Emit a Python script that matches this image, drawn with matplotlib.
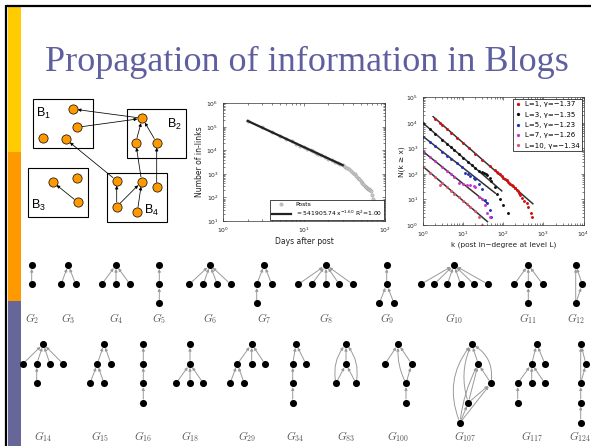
import matplotlib
matplotlib.use('Agg')
import matplotlib.pyplot as plt
from matplotlib.patches import Rectangle

W, H = 591, 446

# ---- in-links over time (middle panel) ----
days = [2, 3, 4, 5, 6, 7, 8, 9, 10, 11, 12, 13, 14, 15, 16, 18, 20, 22, 24, 26,
        28, 30, 32, 34, 36, 38, 40, 42, 44, 46, 48, 50, 52, 54, 56, 58, 60, 62,
        64, 66, 68, 70, 72]
inlinks = [178000, 94000, 59500, 41000, 31000, 24000, 19500, 16000, 13500,
           11800, 10100, 9000, 7900, 7100, 6400, 5300, 4500, 3850, 3350, 2950,
           2600, 2300, 2000, 1800, 1550, 1300, 1100, 950, 800, 680, 580, 500,
           430, 370, 320, 290, 260, 240, 220, 200, 180, 130, 90]
fit_coef = 541905.74
fit_exp = -1.60
fit_r2 = 1.00
fit_days = [2, 30]

# ---- in-degree distribution per cascade level (right panel) ----
levels = ['L=1', 'L=3', 'L=5', 'L=7', 'L=10']
gammas = [-1.37, -1.35, -1.23, -1.26, -1.34]
fit_amp = [37900, 9550, 2880, 740, 190]
fit_k = [(1.76, 543), (1, 91), (1, 63), (1, 40), (1, 40)]
level_colors = ['#d01010', '#111111', '#2233bb', '#cc33cc', '#e05570']

k_l1 = [2, 2.6, 3, 4, 5, 7, 10, 14, 20, 30, 45, 60, 70, 75, 82, 90, 100, 110,
        120, 130, 140, 150, 165, 175, 190, 200, 215, 230, 245, 260, 290, 330,
        380, 420, 480, 515]
n_l1 = [14700, 10250, 8400, 5680, 4180, 2640, 1620, 1020, 627, 360, 206, 139,
        118, 104, 95, 82, 72, 63, 57, 50, 46, 41, 37, 33, 29, 27, 24, 22, 18,
        15, 11, 9, 7, 5, 3, 2]
k_l3 = [1, 1.5, 2, 3, 4, 5, 6, 8, 10, 13, 16, 20, 25, 30, 33, 36, 40, 45, 50,
        60, 70, 80, 100, 130]
n_l3 = [9550, 5520, 3750, 2170, 1470, 1090, 851, 577, 427, 299, 226, 167, 130,
        118, 110, 100, 88, 70, 52, 30, 16, 10, 6, 3]
k_l5 = [1, 1.5, 2, 3, 4, 5, 7, 9, 11, 13, 15, 18, 20, 25, 30, 35, 40, 45, 50]
n_l5 = [2880, 1750, 1230, 746, 524, 398, 264, 193, 110, 95, 85, 70, 62, 40,
        25, 9.5, 7, 4, 2]
k_l7 = [1, 1.5, 2, 3, 4, 5, 6, 8, 10, 12, 15, 18, 20, 25, 30, 35, 40, 45]
n_l7 = [740, 444, 309, 185, 129, 97, 77, 45, 40, 38, 36, 33, 30, 13, 10, 6, 3, 2]
k_l10 = [1, 1.5, 2, 2.6, 3, 4, 5, 6, 8, 10, 12, 15, 20, 25, 30]
n_l10 = [190, 110, 75, 37, 44, 30, 22, 17, 12, 8.7, 6.8, 5, 3.4, 2, 1]
level_k = [k_l1, k_l3, k_l5, k_l7, k_l10]
level_n = [n_l1, n_l3, n_l5, n_l7, n_l10]

# ---- blog graph sketch (top left) ----
blog_boxes = {'1': (33.3, 99.3, 92.7, 148.3), '2': (126.7, 109, 186, 158.3),
              '3': (28.3, 168.3, 87.7, 217.3), '4': (107.3, 172.7, 166.7, 222.3)}
blog_labels = {'1': (43, 113), '2': (174, 124), '3': (38, 205), '4': (152, 210)}
blog_posts = [(72.7, 109), (77.3, 127.3), (42.7, 138.3), (66, 139.3),
              (142.3, 118.3), (135.7, 142.7), (156.7, 142.7),
              (52.7, 182), (77.3, 178), (78, 202.3),
              (116.7, 180.7), (141.7, 181.7), (156.7, 187.3), (116.7, 206.7),
              (137.3, 212)]
blog_links = [(4, 0), (1, 4), (10, 3), (5, 4), (6, 4), (11, 5), (12, 6),
              (13, 10), (13, 11), (14, 11), (9, 7)]

# ---- cascade shapes: (label, label x, row, nodes (x, depth), edges (src, dst, rad)) ----
cascades = [
    ('2', 31.7, 0, [(31.7, 0), (31.7, 1)], [(1, 0, 0)]),
    ('3', 68.3, 0, [(68.3, 0), (61, 1), (75.7, 1)], [(1, 0, 0), (2, 0, 0)]),
    ('4', 116, 0, [(116, 0), (101.7, 1), (116, 1), (130, 1)],
     [(1, 0, 0), (2, 0, 0), (3, 0, 0)]),
    ('5', 159.3, 0, [(159.3, 0), (159.3, 1), (159.3, 2)], [(1, 0, 0), (2, 1, 0)]),
    ('6', 210, 0, [(210, 0), (189.3, 1), (203.3, 1), (217.3, 1), (230.7, 1)],
     [(1, 0, 0), (2, 0, 0), (3, 0, 0), (4, 0, 0)]),
    ('7', 264.3, 0, [(264.3, 0), (256.7, 1), (271.7, 1), (256.7, 2)],
     [(1, 0, 0), (2, 0, 0), (3, 1, 0)]),
    ('8', 326, 0, [(326, 0), (298.3, 1), (311.7, 1), (326, 1), (339.3, 1), (352.7, 1)],
     [(1, 0, 0), (2, 0, 0), (3, 0, 0), (4, 0, 0), (5, 0, 0)]),
    ('9', 386.7, 0, [(386.7, 0), (386.7, 1), (379.3, 2), (394, 2)],
     [(1, 0, 0), (2, 1, 0), (3, 1, 0)]),
    ('10', 454, 0, [(454, 0), (420.7, 1), (434, 1), (447.3, 1), (460.7, 1),
                    (474, 1), (488, 1)],
     [(1, 0, 0), (2, 0, 0), (3, 0, 0), (4, 0, 0), (5, 0, 0), (6, 0, 0)]),
    ('11', 528.3, 0, [(528.3, 0), (514.3, 1), (528.3, 1), (542.7, 1), (528.3, 2)],
     [(1, 0, 0), (2, 0, 0), (3, 0, 0), (4, 2, 0)]),
    ('12', 575.7, 0, [(575.7, 0), (582.3, 1), (575.7, 2)],
     [(1, 0, 0), (2, 1, 0), (2, 0, 0)]),
    ('14', 43.3, 1, [(43.3, 0), (22.7, 1), (36.7, 1), (50, 1), (63.3, 1), (36.7, 2)],
     [(1, 0, 0), (2, 0, 0), (3, 0, 0), (4, 0, 0), (5, 2, 0)]),
    ('15', 100, 1, [(104, 0), (97.3, 1), (111, 1), (90, 2), (104, 2)],
     [(1, 0, 0), (2, 0, 0), (3, 1, 0), (4, 1, 0)]),
    ('16', 143.3, 1, [(143.3, 0), (143.3, 1), (143.3, 2), (143.3, 3)],
     [(1, 0, 0), (2, 1, 0), (3, 2, 0)]),
    ('18', 190, 1, [(190, 0), (190, 1), (176, 2), (190, 2), (203.3, 2)],
     [(1, 0, 0), (2, 1, 0), (3, 1, 0), (4, 1, 0)]),
    ('29', 246.7, 1, [(251.7, 0), (237.3, 1), (251.7, 1), (265, 1), (230, 2), (244.3, 2)],
     [(1, 0, 0), (2, 0, 0), (3, 0, 0), (4, 1, 0), (5, 1, 0)]),
    ('34', 295, 1, [(296, 0), (292.7, 1), (306, 1), (292.7, 2), (292.7, 3)],
     [(1, 0, 0), (2, 0, 0), (3, 1, 0), (4, 3, 0)]),
    ('83', 346, 1, [(346, 0), (346, 1), (336, 2), (356, 2)],
     [(1, 0, 0), (2, 1, 0), (3, 1, 0), (2, 0, -0.25), (3, 0, 0.25)]),
    ('100', 398.3, 1, [(398.3, 0), (385, 1), (411.7, 1), (406, 2), (406, 3)],
     [(1, 0, 0), (2, 0, 0), (3, 2, 0), (4, 3, 0), (3, 0, -0.15)]),
    ('107', 465, 1, [(471.7, 0), (478.3, 1), (491, 2), (468.3, 3), (460, 4)],
     [(1, 0, 0), (2, 1, 0), (2, 0, 0.35), (3, 1, 0), (3, 2, 0), (4, 3, 0),
      (4, 2, 0), (4, 1, -0.1), (4, 0, -0.3), (3, 0, -0.2)]),
    ('117', 531.7, 1, [(536.7, 0), (531.7, 1), (545, 1), (517.7, 2), (531.7, 2),
                      (545, 2), (517.7, 3)],
     [(1, 0, 0), (2, 0, 0), (3, 1, 0), (4, 1, 0), (5, 1, 0), (6, 3, 0)]),
    ('124', 580, 1, [(580.7, 0), (586, 1), (580.7, 2), (580.7, 3), (580.7, 4)],
     [(1, 0, 0), (2, 1, 0), (2, 0, 0), (3, 2, 0), (4, 3, 0)]),
]
row_depth_y = [[265, 284.3, 303.3], [344, 364, 383.3, 402.7, 422.7]]
row_label_y = [318.5, 437]


def px_axes(fig, left, top, right, bottom):
    return fig.add_axes([left / W, 1 - bottom / H, (right - left) / W, (bottom - top) / H])


def arrow(ax, src, dst, color, lw, scale, shrink_a, shrink_b, rad=0.0):
    ax.annotate('', xy=dst, xytext=src,
                arrowprops=dict(arrowstyle='-|>', color=color, lw=lw,
                                mutation_scale=scale, shrinkA=shrink_a,
                                shrinkB=shrink_b,
                                connectionstyle=f'arc3,rad={rad}'),
                zorder=2)


def style_log_axes(a):
    a.set_xscale('log')
    a.set_yscale('log')
    a.tick_params(which='both', direction='in', top=True, right=True,
                  labelsize=4.3, width=0.4, colors='#222')
    a.tick_params(which='major', length=2.5)
    a.tick_params(which='minor', length=1.3)
    for s in a.spines.values():
        s.set_linewidth(0.5)
        s.set_color('#333')


fig = plt.figure(figsize=(W / 100, H / 100), dpi=100)
ax = fig.add_axes([0, 0, 1, 1])
ax.set_xlim(0, W)
ax.set_ylim(H, 0)
ax.axis('off')

# slide frame and colour bar
ax.plot([6, W], [5.5, 5.5], color='black', lw=1.6, solid_capstyle='butt')
ax.plot([6.2, 6.2], [5, H], color='black', lw=1.6, solid_capstyle='butt')
ax.add_patch(Rectangle((8, 7), 13, 145, color='#ffcc00', lw=0))
ax.add_patch(Rectangle((8, 152), 13, 148.5, color='#ff9900', lw=0))
ax.add_patch(Rectangle((8, 300.5), 13, H - 300.5, color='#666699', lw=0))

ax.text(307, 71, 'Propagation of information in Blogs', ha='center',
        va='baseline', fontsize=26, family='Liberation Serif', color='#5f5f9f')

# blogs with posts linking to each other
for name, (x0, y0, x1, y1) in blog_boxes.items():
    ax.add_patch(Rectangle((x0, y0), x1 - x0, y1 - y0, fc='white', ec='black', lw=0.8))
    lx, ly = blog_labels[name]
    ax.text(lx, ly, 'B$_\\mathregular{' + name + '}$', ha='center', va='center',
            fontsize=9, family='Liberation Sans', color='black')
for s, d in blog_links:
    arrow(ax, blog_posts[s], blog_posts[d], 'black', 0.55, 4.5, 3.5, 3.6)
ax.scatter([p[0] for p in blog_posts], [p[1] for p in blog_posts], s=44,
           c='#ff9900', edgecolors='black', linewidths=0.5, zorder=3)

# cascade shapes
for label, lx, row, nodes, edges in cascades:
    ys = row_depth_y[row]
    pts = [(x, ys[dep]) for x, dep in nodes]
    for s, d, rad in edges:
        arrow(ax, pts[s], pts[d], '#9a9a9a', 0.7, 4, 2.6, 2.8, rad)
    ax.scatter([p[0] for p in pts], [p[1] for p in pts], s=26, c='black',
               linewidths=0, zorder=3)
    ax.text(lx, row_label_y[row], '$G_{' + label + '}$', ha='center', va='center',
            fontsize=8, color='#555', math_fontfamily='cm')

# in-links vs days after post
ax1 = px_axes(fig, 223.3, 103.3, 385, 221)
style_log_axes(ax1)
ax1.plot(days, inlinks, 'o', ms=2.4, mfc='#c4c4c4', mec='#9a9a9a', mew=0.3,
         label='Posts')
fit_y = [fit_coef * d ** fit_exp for d in fit_days]
ax1.plot(fit_days, fit_y, color='#222', lw=1.6,
         label=f'= {fit_coef} x$^{{{fit_exp:.2f}}}$ R$^2$={fit_r2:.2f}')
ax1.set_xlim(1, 100)
ax1.set_ylim(10, 1e6)
ax1.set_xlabel('Days after post', fontsize=5.5, labelpad=1.5, color='#222')
ax1.set_ylabel('Number of in-links', fontsize=5.5, labelpad=1.5, color='#222')
leg1 = ax1.legend(loc='lower right', fontsize=4.3, fancybox=False, framealpha=1,
                  edgecolor='black', borderpad=0.35, handlelength=3.2,
                  labelspacing=0.25, borderaxespad=0.15)
leg1.get_frame().set_linewidth(0.5)

# cumulative in-degree per level
ax2 = px_axes(fig, 423.3, 97.3, 583.5, 225)
style_log_axes(ax2)
for lab, g, amp, (ka, kb), col, ks, ns in zip(levels, gammas, fit_amp, fit_k,
                                              level_colors, level_k, level_n):
    ax2.plot(ks, ns, '.', ms=2.2, color=col, label=f'{lab}, \u03b3=\u2212{abs(g):.2f}')
for g, amp, (ka, kb) in zip(gammas, fit_amp, fit_k):
    ax2.plot([ka, kb], [amp * ka ** g, amp * kb ** g], color='#333', lw=1.1, zorder=1)
ax2.set_xlim(1, 1e4)
ax2.set_ylim(1, 1e5)
ax2.set_xlabel('k (post in\u2212degree at level L)', fontsize=5.3, labelpad=1.5, color='#222')
ax2.set_ylabel('N(k \u2265 x)', fontsize=5.3, labelpad=1, color='#222')
leg2 = ax2.legend(loc='upper right', fontsize=5, fancybox=False, framealpha=1,
                  edgecolor='black', borderpad=0.35, handlelength=0.8,
                  handletextpad=0.5, labelspacing=0.62, borderaxespad=0.25,
                  markerscale=1.2)
leg2.get_frame().set_linewidth(0.5)

fig.savefig('out.png', dpi=100)
